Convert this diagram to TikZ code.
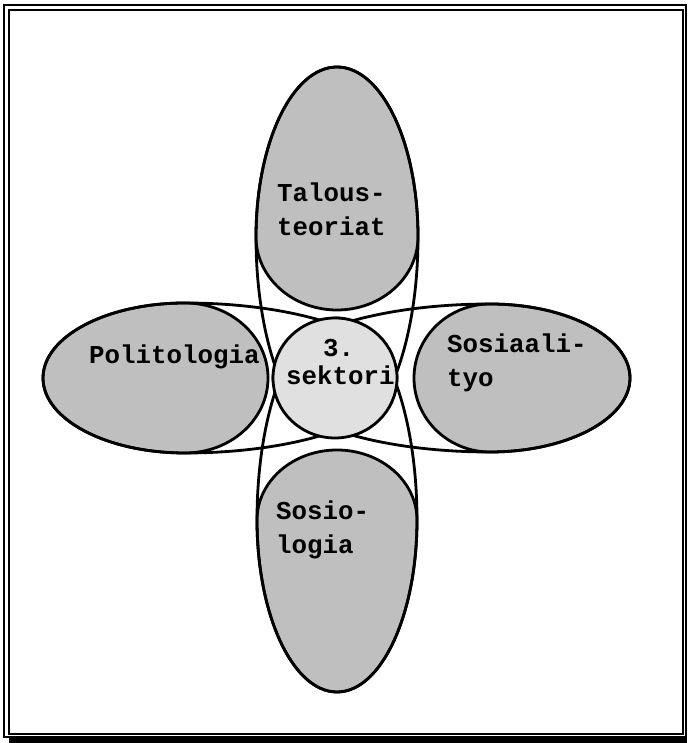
\documentclass[tikz,border=0pt]{standalone}
\usepackage{fontspec}
\newfontfamily\labelfont{Liberation Mono}
\begin{document}
\begin{tikzpicture}[x=1pt,y=1pt,
  outline/.style={draw=black,line width=2.8pt},
  eggfill/.style={fill=black!25},
  corefill/.style={fill=black!12},
  lbl/.style={anchor=base west,inner sep=0pt,font=\labelfont\bfseries\fontsize{25.8}{34}\selectfont},
  frameline/.style={draw=black,line width=1.6pt}]
\useasboundingbox (0,0) rectangle (687,743);
% frame
\draw[frameline] (4,6) rectangle (686,738);
\draw[frameline] (9,9) rectangle (683,733);
\fill[black] (9,0) rectangle (687,5);
% egg paths (outer half shared with the long lobes)
\def\eggtop{(256,506) arc[start angle=180,end angle=0,x radius=81pt,y radius=170pt]
   arc[start angle=0,end angle=-180,x radius=81pt,y radius=73pt] -- cycle}
\def\eggbottom{(417,223) arc[start angle=0,end angle=-180,x radius=80pt,y radius=172pt]
   arc[start angle=180,end angle=0,x radius=80pt,y radius=70pt] -- cycle}
\def\eggleft{(185,440) arc[start angle=90,end angle=270,x radius=142pt,y radius=75pt]
   arc[start angle=-90,end angle=90,x radius=83pt,y radius=75pt] -- cycle}
\def\eggright{(490,439) arc[start angle=90,end angle=-90,x radius=140pt,y radius=74pt]
   arc[start angle=270,end angle=90,x radius=76pt,y radius=74pt] -- cycle}
% long lobes reaching the far side of the centre circle
\def\lobetop{(256,506) arc[start angle=180,end angle=0,x radius=81pt,y radius=170pt]
   arc[start angle=0,end angle=-180,x radius=81pt,y radius=200pt] -- cycle}
\def\lobebottom{(417,223) arc[start angle=0,end angle=-180,x radius=80pt,y radius=172pt]
   arc[start angle=180,end angle=0,x radius=80pt,y radius=202pt] -- cycle}
\def\lobeleft{(185,440) arc[start angle=90,end angle=270,x radius=142pt,y radius=75pt]
   arc[start angle=-90,end angle=90,x radius=212pt,y radius=75pt] -- cycle}
\def\loberight{(490,439) arc[start angle=90,end angle=-90,x radius=140pt,y radius=74pt]
   arc[start angle=270,end angle=90,x radius=217pt,y radius=74pt] -- cycle}
\path[eggfill] \eggtop;
\path[eggfill] \eggbottom;
\path[eggfill] \eggleft;
\path[eggfill] \eggright;
% long lobes
\draw[outline] \lobetop;
\draw[outline] \lobebottom;
\draw[outline] \lobeleft;
\draw[outline] \loberight;
% egg outlines
\draw[outline] \eggtop;
\draw[outline] \eggbottom;
\draw[outline] \eggleft;
\draw[outline] \eggright;
% centre circle, on top
\path[corefill,outline] (335,365) ellipse[x radius=62pt,y radius=60pt];
% labels
\node[lbl] (t1) at (277,541) {Talous-};
\node[lbl] (t2) at (277,507) {teoriat};
\node[lbl] (p1) at (89,379) {Politologia};
\node[lbl] (c1) at (323,386) {3.};
\node[lbl] (c2) at (286,358) {sektori};
\node[lbl] (s1) at (447,390) {Sosiaali-};
\node[lbl] (s2) at (447,356) {tyo};
\node[lbl] (b1) at (276,223) {Sosio-};
\node[lbl] (b2) at (276,189) {logia};
\end{tikzpicture}
\end{document}
